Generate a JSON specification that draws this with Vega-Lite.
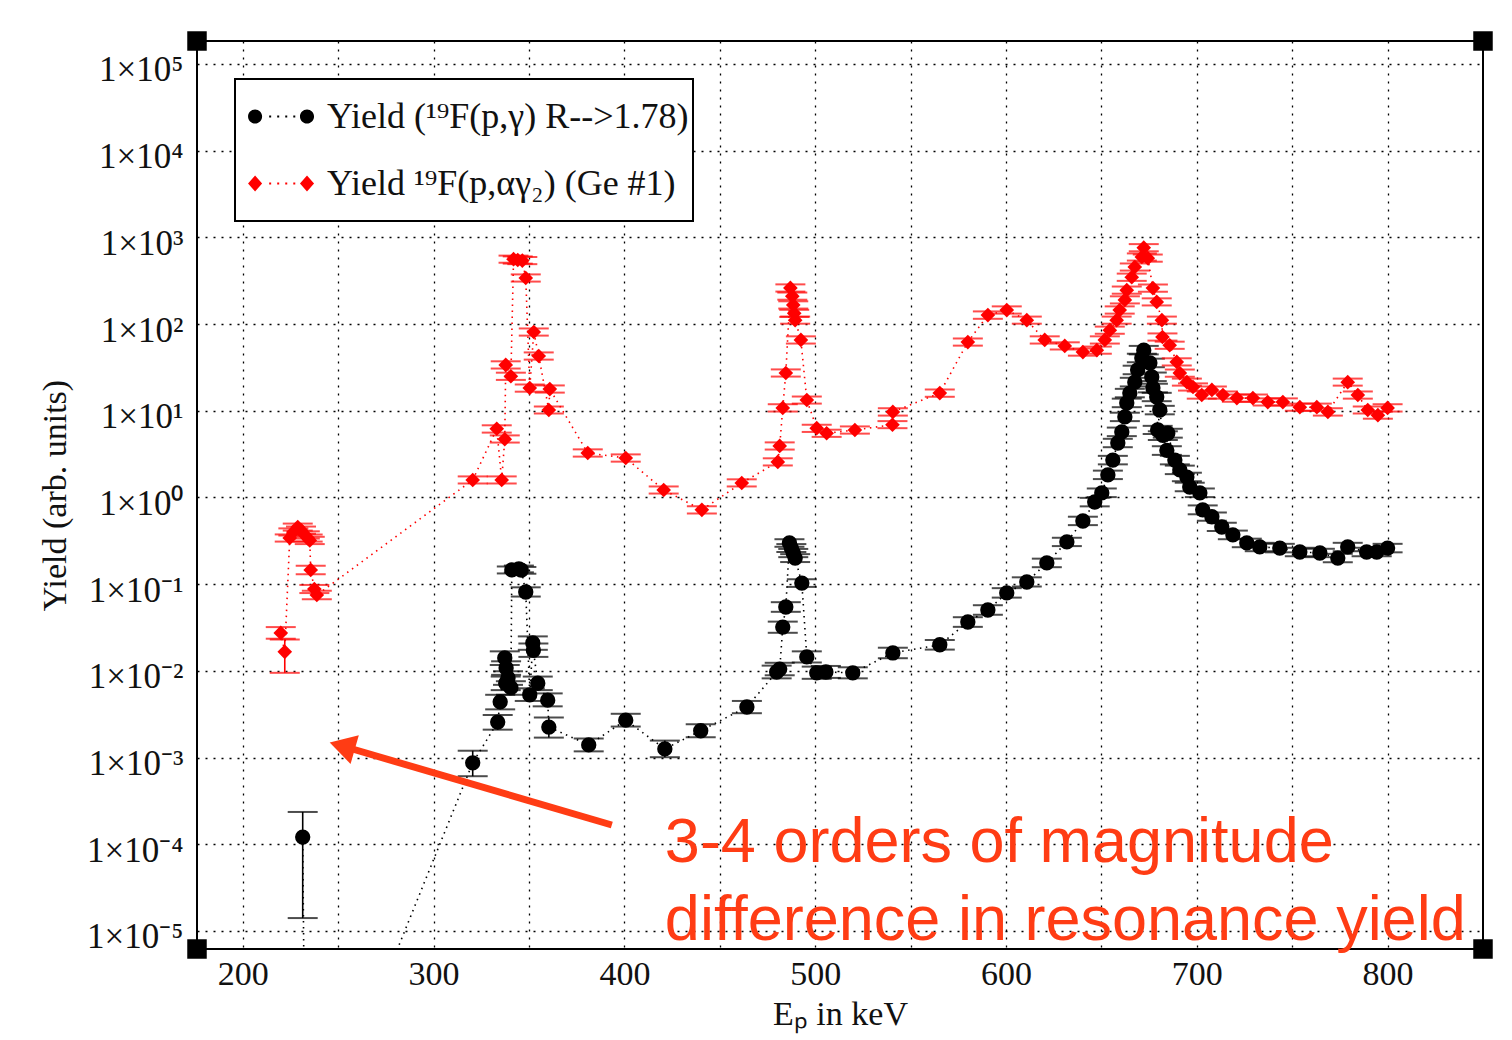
{
  "$schema": "https://vega.github.io/schema/vega-lite/v6.json",
  "width": 1286,
  "height": 908,
  "autosize": {"type": "none"},
  "padding": {"left": 197, "top": 41, "right": 29, "bottom": 91},
  "background": "white",
  "datasets": {
    "pts": [
      {"s":"g","E":231.4,"Y":1.21e-4,"lo":1.41e-5,"hi":2.36e-4},
      {"s":"g","E":233.0,"Y":1.5e-8,"lo":1.5e-8,"hi":1.5e-8},
      {"s":"g","E":320.5,"Y":8.7e-4,"lo":6.1e-4,"hi":1.2e-3},
      {"s":"g","E":333.6,"Y":2.57e-3,"lo":2.1e-3,"hi":3.1e-3},
      {"s":"g","E":334.9,"Y":4.4e-3,"lo":3.6e-3,"hi":5.3e-3},
      {"s":"g","E":337.8,"Y":7.2e-3,"lo":6.0e-3,"hi":8.6e-3},
      {"s":"g","E":337.3,"Y":0.0141,"lo":0.0117,"hi":0.0168},
      {"s":"g","E":338.0,"Y":0.0108,"lo":0.009,"hi":0.0129},
      {"s":"g","E":339.0,"Y":0.0083,"lo":0.0069,"hi":0.0099},
      {"s":"g","E":340.5,"Y":0.0064,"lo":0.0053,"hi":0.0076},
      {"s":"g","E":341.0,"Y":0.146,"lo":0.133,"hi":0.16},
      {"s":"g","E":344.7,"Y":0.150,"lo":0.137,"hi":0.164},
      {"s":"g","E":346.0,"Y":0.145,"lo":0.132,"hi":0.158},
      {"s":"g","E":348.3,"Y":0.0813,"lo":0.072,"hi":0.092},
      {"s":"g","E":352.0,"Y":0.021,"lo":0.0175,"hi":0.025},
      {"s":"g","E":352.3,"Y":0.0173,"lo":0.0145,"hi":0.0207},
      {"s":"g","E":350.4,"Y":0.0053,"lo":0.0045,"hi":0.0063},
      {"s":"g","E":354.6,"Y":0.0072,"lo":0.006,"hi":0.0086},
      {"s":"g","E":359.8,"Y":0.0046,"lo":0.0039,"hi":0.0055},
      {"s":"g","E":360.4,"Y":0.00225,"lo":0.0017,"hi":0.0029},
      {"s":"g","E":381.3,"Y":0.0014,"lo":0.00118,"hi":0.00166},
      {"s":"g","E":400.7,"Y":0.0027,"lo":0.00228,"hi":0.0032},
      {"s":"g","E":421.2,"Y":0.00126,"lo":0.00101,"hi":0.00157},
      {"s":"g","E":440.0,"Y":0.00204,"lo":0.00172,"hi":0.00242},
      {"s":"g","E":464.2,"Y":0.00383,"lo":0.00325,"hi":0.0045},
      {"s":"g","E":479.8,"Y":0.0097,"lo":0.0082,"hi":0.0115},
      {"s":"g","E":481.4,"Y":0.0105,"lo":0.0089,"hi":0.0124},
      {"s":"g","E":483.0,"Y":0.032,"lo":0.0275,"hi":0.037},
      {"s":"g","E":484.6,"Y":0.0546,"lo":0.048,"hi":0.062},
      {"s":"g","E":486.5,"Y":0.299,"lo":0.27,"hi":0.33},
      {"s":"g","E":487.5,"Y":0.261,"lo":0.235,"hi":0.29},
      {"s":"g","E":488.5,"Y":0.229,"lo":0.205,"hi":0.255},
      {"s":"g","E":489.5,"Y":0.2,"lo":0.18,"hi":0.222},
      {"s":"g","E":493.0,"Y":0.103,"lo":0.093,"hi":0.114},
      {"s":"g","E":495.6,"Y":0.0145,"lo":0.0125,"hi":0.0168},
      {"s":"g","E":500.8,"Y":0.0095,"lo":0.0081,"hi":0.0112},
      {"s":"g","E":505.6,"Y":0.0097,"lo":0.0083,"hi":0.0114},
      {"s":"g","E":519.7,"Y":0.0095,"lo":0.0082,"hi":0.011},
      {"s":"g","E":540.7,"Y":0.0161,"lo":0.014,"hi":0.0185},
      {"s":"g","E":565.3,"Y":0.02,"lo":0.0176,"hi":0.0227},
      {"s":"g","E":580.0,"Y":0.0366,"lo":0.0322,"hi":0.0416},
      {"s":"g","E":590.5,"Y":0.0504,"lo":0.0444,"hi":0.0572},
      {"s":"g","E":600.4,"Y":0.0793,"lo":0.07,"hi":0.09},
      {"s":"g","E":610.9,"Y":0.106,"lo":0.094,"hi":0.12},
      {"s":"g","E":621.4,"Y":0.176,"lo":0.157,"hi":0.197},
      {"s":"g","E":631.9,"Y":0.307,"lo":0.275,"hi":0.343},
      {"s":"g","E":640.3,"Y":0.536,"lo":0.48,"hi":0.6},
      {"s":"g","E":646.5,"Y":0.887,"lo":0.79,"hi":0.99},
      {"s":"g","E":650.2,"Y":1.13,"lo":1.01,"hi":1.27},
      {"s":"g","E":653.4,"Y":1.82,"lo":1.63,"hi":2.04},
      {"s":"g","E":656.0,"Y":2.7,"lo":2.41,"hi":3.02},
      {"s":"g","E":658.6,"Y":4.25,"lo":3.8,"hi":4.75},
      {"s":"g","E":660.7,"Y":5.7,"lo":5.1,"hi":6.4},
      {"s":"g","E":662.3,"Y":8.5,"lo":7.6,"hi":9.5},
      {"s":"g","E":663.3,"Y":12.3,"lo":11,"hi":13.8},
      {"s":"g","E":664.9,"Y":16,"lo":14.3,"hi":17.9},
      {"s":"g","E":667.5,"Y":21.4,"lo":19.1,"hi":24},
      {"s":"g","E":669.0,"Y":29.6,"lo":26.4,"hi":33.1},
      {"s":"g","E":671.2,"Y":40.6,"lo":36.3,"hi":45.5},
      {"s":"g","E":672.2,"Y":50,"lo":44.7,"hi":56},
      {"s":"g","E":675.4,"Y":35.6,"lo":31.8,"hi":39.9},
      {"s":"g","E":676.4,"Y":24.6,"lo":22,"hi":27.6},
      {"s":"g","E":677.0,"Y":18.3,"lo":16.3,"hi":20.5},
      {"s":"g","E":679.0,"Y":14.4,"lo":12.9,"hi":16.1},
      {"s":"g","E":680.6,"Y":10.2,"lo":9.1,"hi":11.4},
      {"s":"g","E":679.5,"Y":6.0,"lo":5.4,"hi":6.7},
      {"s":"g","E":682.2,"Y":5.2,"lo":4.6,"hi":5.8},
      {"s":"g","E":684.8,"Y":5.5,"lo":4.9,"hi":6.2},
      {"s":"g","E":684.3,"Y":3.5,"lo":3.1,"hi":3.9},
      {"s":"g","E":688.5,"Y":2.7,"lo":2.41,"hi":3.02},
      {"s":"g","E":691.1,"Y":2.08,"lo":1.86,"hi":2.33},
      {"s":"g","E":694.8,"Y":1.72,"lo":1.54,"hi":1.93},
      {"s":"g","E":696.3,"Y":1.32,"lo":1.18,"hi":1.48},
      {"s":"g","E":701.6,"Y":1.13,"lo":1.01,"hi":1.27},
      {"s":"g","E":703.1,"Y":0.72,"lo":0.64,"hi":0.81},
      {"s":"g","E":707.9,"Y":0.6,"lo":0.54,"hi":0.67},
      {"s":"g","E":713.1,"Y":0.457,"lo":0.41,"hi":0.51},
      {"s":"g","E":718.9,"Y":0.371,"lo":0.33,"hi":0.415},
      {"s":"g","E":726.2,"Y":0.299,"lo":0.267,"hi":0.335},
      {"s":"g","E":733.0,"Y":0.269,"lo":0.24,"hi":0.3},
      {"s":"g","E":743.5,"Y":0.261,"lo":0.233,"hi":0.292},
      {"s":"g","E":754.0,"Y":0.235,"lo":0.21,"hi":0.263},
      {"s":"g","E":764.5,"Y":0.229,"lo":0.205,"hi":0.256},
      {"s":"g","E":773.9,"Y":0.2,"lo":0.179,"hi":0.224},
      {"s":"g","E":779.1,"Y":0.269,"lo":0.24,"hi":0.3},
      {"s":"g","E":789.0,"Y":0.235,"lo":0.21,"hi":0.263},
      {"s":"g","E":794.3,"Y":0.235,"lo":0.21,"hi":0.263},
      {"s":"g","E":800.0,"Y":0.261,"lo":0.233,"hi":0.292},
      {"s":"a","E":219.9,"Y":0.0274,"lo":0.0235,"hi":0.032},
      {"s":"a","E":222.0,"Y":0.0166,"lo":0.0095,"hi":0.023},
      {"s":"a","E":224.6,"Y":0.341,"lo":0.31,"hi":0.375},
      {"s":"a","E":226.5,"Y":0.40,"lo":0.364,"hi":0.44},
      {"s":"a","E":228.8,"Y":0.456,"lo":0.415,"hi":0.5},
      {"s":"a","E":230.5,"Y":0.42,"lo":0.382,"hi":0.462},
      {"s":"a","E":232.5,"Y":0.37,"lo":0.336,"hi":0.407},
      {"s":"a","E":234.0,"Y":0.34,"lo":0.31,"hi":0.374},
      {"s":"a","E":235.1,"Y":0.32,"lo":0.29,"hi":0.352},
      {"s":"a","E":235.6,"Y":0.146,"lo":0.13,"hi":0.163},
      {"s":"a","E":237.5,"Y":0.088,"lo":0.079,"hi":0.098},
      {"s":"a","E":238.8,"Y":0.075,"lo":0.067,"hi":0.084},
      {"s":"a","E":320.5,"Y":1.59,"lo":1.45,"hi":1.75},
      {"s":"a","E":333.1,"Y":6.2,"lo":5.6,"hi":6.8},
      {"s":"a","E":335.7,"Y":1.59,"lo":1.45,"hi":1.75},
      {"s":"a","E":337.3,"Y":4.7,"lo":4.3,"hi":5.2},
      {"s":"a","E":337.8,"Y":33.8,"lo":30.7,"hi":37.2},
      {"s":"a","E":340.5,"Y":25,"lo":22.7,"hi":27.5},
      {"s":"a","E":341.9,"Y":560,"lo":510,"hi":616},
      {"s":"a","E":344.1,"Y":548,"lo":498,"hi":603},
      {"s":"a","E":346.5,"Y":540,"lo":491,"hi":594},
      {"s":"a","E":348.3,"Y":340,"lo":309,"hi":374},
      {"s":"a","E":350.4,"Y":18.3,"lo":16.6,"hi":20.1},
      {"s":"a","E":352.5,"Y":81,"lo":73.6,"hi":89},
      {"s":"a","E":355.1,"Y":42.8,"lo":38.9,"hi":47.1},
      {"s":"a","E":360.4,"Y":10.2,"lo":9.3,"hi":11.2},
      {"s":"a","E":360.9,"Y":17.8,"lo":16.2,"hi":19.6},
      {"s":"a","E":380.8,"Y":3.26,"lo":2.96,"hi":3.59},
      {"s":"a","E":400.7,"Y":2.85,"lo":2.59,"hi":3.14},
      {"s":"a","E":420.6,"Y":1.22,"lo":1.11,"hi":1.34},
      {"s":"a","E":440.6,"Y":0.72,"lo":0.655,"hi":0.79},
      {"s":"a","E":461.5,"Y":1.47,"lo":1.34,"hi":1.62},
      {"s":"a","E":480.4,"Y":2.57,"lo":2.34,"hi":2.83},
      {"s":"a","E":481.4,"Y":3.93,"lo":3.57,"hi":4.32},
      {"s":"a","E":483.0,"Y":10.8,"lo":9.8,"hi":11.9},
      {"s":"a","E":484.6,"Y":27.3,"lo":24.8,"hi":30},
      {"s":"a","E":487.0,"Y":261,"lo":237,"hi":287},
      {"s":"a","E":488.0,"Y":210,"lo":191,"hi":231},
      {"s":"a","E":488.5,"Y":166,"lo":151,"hi":183},
      {"s":"a","E":489.0,"Y":133,"lo":121,"hi":146},
      {"s":"a","E":489.5,"Y":111,"lo":101,"hi":122},
      {"s":"a","E":492.5,"Y":65.6,"lo":59.6,"hi":72.2},
      {"s":"a","E":495.6,"Y":13.3,"lo":12.1,"hi":14.6},
      {"s":"a","E":500.8,"Y":6.3,"lo":5.7,"hi":6.9},
      {"s":"a","E":506.0,"Y":5.5,"lo":5.0,"hi":6.05},
      {"s":"a","E":520.8,"Y":6.0,"lo":5.45,"hi":6.6},
      {"s":"a","E":540.5,"Y":6.9,"lo":6.3,"hi":7.6},
      {"s":"a","E":540.7,"Y":9.7,"lo":8.8,"hi":10.7},
      {"s":"a","E":565.3,"Y":16,"lo":14.5,"hi":17.6},
      {"s":"a","E":580.0,"Y":62,"lo":56.4,"hi":68.2},
      {"s":"a","E":590.5,"Y":127,"lo":115,"hi":140},
      {"s":"a","E":600.4,"Y":145,"lo":132,"hi":160},
      {"s":"a","E":610.9,"Y":111,"lo":101,"hi":122},
      {"s":"a","E":620.3,"Y":65.6,"lo":59.6,"hi":72.2},
      {"s":"a","E":630.8,"Y":56,"lo":50.9,"hi":61.6},
      {"s":"a","E":640.3,"Y":47.5,"lo":43.2,"hi":52.3},
      {"s":"a","E":647.6,"Y":50,"lo":45.5,"hi":55},
      {"s":"a","E":651.8,"Y":65.6,"lo":59.6,"hi":72.2},
      {"s":"a","E":654.4,"Y":85,"lo":77.3,"hi":93.5},
      {"s":"a","E":658.0,"Y":111,"lo":101,"hi":122},
      {"s":"a","E":659.6,"Y":145,"lo":132,"hi":160},
      {"s":"a","E":662.3,"Y":190,"lo":173,"hi":209},
      {"s":"a","E":663.3,"Y":246,"lo":224,"hi":271},
      {"s":"a","E":665.9,"Y":347,"lo":315,"hi":382},
      {"s":"a","E":667.5,"Y":455,"lo":414,"hi":500},
      {"s":"a","E":671.2,"Y":594,"lo":540,"hi":653},
      {"s":"a","E":672.2,"Y":760,"lo":691,"hi":836},
      {"s":"a","E":674.3,"Y":576,"lo":524,"hi":634},
      {"s":"a","E":677.0,"Y":260,"lo":236,"hi":286},
      {"s":"a","E":679.0,"Y":180,"lo":164,"hi":198},
      {"s":"a","E":681.7,"Y":111,"lo":101,"hi":122},
      {"s":"a","E":682.0,"Y":71,"lo":64.5,"hi":78},
      {"s":"a","E":685.8,"Y":57,"lo":51.8,"hi":62.7},
      {"s":"a","E":689.5,"Y":36.6,"lo":33.3,"hi":40.3},
      {"s":"a","E":691.1,"Y":27.2,"lo":24.7,"hi":29.9},
      {"s":"a","E":694.8,"Y":21.4,"lo":19.5,"hi":23.5},
      {"s":"a","E":698.0,"Y":18.8,"lo":17.1,"hi":20.7},
      {"s":"a","E":702.6,"Y":15.2,"lo":13.8,"hi":16.7},
      {"s":"a","E":707.9,"Y":17.4,"lo":15.8,"hi":19.1},
      {"s":"a","E":713.7,"Y":15.2,"lo":13.8,"hi":16.7},
      {"s":"a","E":721.0,"Y":14,"lo":12.7,"hi":15.4},
      {"s":"a","E":729.4,"Y":14,"lo":12.7,"hi":15.4},
      {"s":"a","E":737.2,"Y":12.6,"lo":11.5,"hi":13.9},
      {"s":"a","E":745.1,"Y":12.6,"lo":11.5,"hi":13.9},
      {"s":"a","E":754.0,"Y":11,"lo":10,"hi":12.1},
      {"s":"a","E":762.9,"Y":11,"lo":10,"hi":12.1},
      {"s":"a","E":768.7,"Y":9.7,"lo":8.8,"hi":10.7},
      {"s":"a","E":779.1,"Y":21.4,"lo":19.5,"hi":23.5},
      {"s":"a","E":784.4,"Y":15.2,"lo":13.8,"hi":16.7},
      {"s":"a","E":789.6,"Y":10.2,"lo":9.3,"hi":11.2},
      {"s":"a","E":794.9,"Y":8.9,"lo":8.1,"hi":9.8},
      {"s":"a","E":800.0,"Y":10.8,"lo":9.8,"hi":11.9}
    ]
  },
  "data": {"name": "pts"},
  "encoding": {
    "x": {
      "field": "E", "type": "quantitative",
      "scale": {"domain": [176, 850], "nice": false, "zero": false},
      "axis": {
        "title": "Eₚ in keV",
        "values": [200, 250, 300, 350, 400, 450, 500, 550, 600, 650, 700, 750, 800],
        "format": "d",
        "labelExpr": "datum.value % 100 === 0 ? datum.label : ''",
        "labelPadding": 8,
        "titlePadding": 6
      }
    },
    "y": {
      "field": "Y", "type": "quantitative",
      "scale": {"type": "log", "domain": [6.2e-6, 184000], "nice": false},
      "axis": {
        "title": "Yield (arb. units)",
        "values": [1e-5, 1e-4, 1e-3, 1e-2, 1e-1, 1, 10, 100, 1000, 10000, 100000],
        "labelExpr": "'1×10' + (datum.value < 0.5 ? '⁻' : '') + ['⁰','¹','²','³','⁴','⁵'][abs(round(log(datum.value)/LN10))]",
        "labelFontSize": 35,
        "labelPadding": 14,
        "labelOffset": 6,
        "titlePadding": 14
      }
    }
  },
  "layer": [
    {
      "mark": {"type": "line", "strokeDash": [1.5, 4.5], "strokeWidth": 1.6, "clip": true},
      "encoding": {
        "stroke": {"field": "s", "type": "nominal", "scale": {"domain": ["a", "g"], "range": ["#ff0000", "#000000"]}, "legend": null}
      }
    },
    {
      "mark": {"type": "rule", "strokeWidth": 1.6, "clip": true},
      "encoding": {
        "y": {"field": "lo", "type": "quantitative"},
        "y2": {"field": "hi"},
        "stroke": {"field": "s", "type": "nominal", "legend": null}
      }
    },
    {
      "mark": {"type": "tick", "orient": "horizontal", "size": 30, "thickness": 2, "clip": true},
      "encoding": {
        "y": {"field": "lo", "type": "quantitative"},
        "fill": {"field": "s", "type": "nominal", "scale": {"domain": ["a", "g"], "range": ["#ff0000", "#000000"]}, "legend": null}
      }
    },
    {
      "mark": {"type": "tick", "orient": "horizontal", "size": 30, "thickness": 2, "clip": true},
      "encoding": {
        "y": {"field": "hi", "type": "quantitative"},
        "fill": {"field": "s", "type": "nominal", "legend": null}
      }
    },
    {
      "transform": [{"filter": "datum.s == 'g'"}],
      "mark": {"type": "point", "shape": "circle", "filled": true, "size": 235, "opacity": 1, "color": "#000000", "clip": true}
    },
    {
      "transform": [{"filter": "datum.s == 'a'"}],
      "mark": {"type": "point", "shape": "diamond", "filled": true, "size": 215, "opacity": 1, "color": "#ff0000", "clip": true}
    },
    {
      "mark": {"type": "point", "filled": true, "size": 10, "opacity": 0, "clip": true},
      "encoding": {
        "color": {
          "field": "s", "type": "nominal",
          "scale": {"domain": ["g", "a"], "range": ["#000000", "#ff0000"]},
          "legend": {
            "orient": "none", "legendX": 38, "legendY": 38, "title": null,
            "direction": "vertical", "padding": 4,
            "strokeColor": "#000", "fillColor": "#ffffff",
            "symbolSize": 4489, "symbolOpacity": 1, "symbolStrokeWidth": 0,
            "labelFontSize": 36, "labelOffset": 21, "rowPadding": -3,
            "labelLimit": 0,
            "labelExpr": "datum.value == 'g' ? 'Yield (¹⁹F(p,γ) R-->1.78)\u00a0\u200a' : 'Yield ¹⁹F(p,αγ₂) (Ge #1)'"
          }
        },
        "shape": {
          "field": "s", "type": "nominal",
          "scale": {"domain": ["g", "a"], "range": [
            "M-0.73,0a0.21,0.21 0 1,0 0.42,0a0.21,0.21 0 1,0 -0.42,0Z M0.82,0a0.21,0.21 0 1,0 0.42,0a0.21,0.21 0 1,0 -0.42,0Z M-0.1,-0.03h0.06v0.06h-0.06Z M0.14,-0.03h0.06v0.06h-0.06Z M0.38,-0.03h0.06v0.06h-0.06Z M0.62,-0.03h0.06v0.06h-0.06Z M-0.5,-1Z M-0.5,1Z",
            "M-0.73,0L-0.52,-0.24L-0.31,0L-0.52,0.24Z M0.82,0L1.03,-0.24L1.24,0L1.03,0.24Z M-0.1,-0.03h0.06v0.06h-0.06Z M0.14,-0.03h0.06v0.06h-0.06Z M0.38,-0.03h0.06v0.06h-0.06Z M0.62,-0.03h0.06v0.06h-0.06Z M-0.5,-1Z M-0.5,1Z"
          ]},
          "legend": {
            "orient": "none", "legendX": 38, "legendY": 38, "title": null,
            "direction": "vertical", "padding": 4,
            "strokeColor": "#000", "fillColor": "#ffffff",
            "symbolSize": 4489, "symbolOpacity": 1, "symbolStrokeWidth": 0,
            "labelFontSize": 36, "labelOffset": 21, "rowPadding": -3,
            "labelLimit": 0,
            "labelExpr": "datum.value == 'g' ? 'Yield (¹⁹F(p,γ) R-->1.78)\u00a0\u200a' : 'Yield ¹⁹F(p,αγ₂) (Ge #1)'"
          }
        }
      }
    },
    {
      "data": {"values": [
        {"E": 393.4, "Y": 1.67e-4, "E2": 252.1, "Y2": 1.36e-3}
      ]},
      "mark": {"type": "rule", "strokeWidth": 7, "color": "#ff3c14", "clip": false},
      "encoding": {
        "x2": {"field": "E2"},
        "y2": {"field": "Y2"}
      }
    },
    {
      "data": {"values": [
        {"E": 393.4, "Y": 1.67e-4, "E2": 252.1, "Y2": 1.36e-3}
      ]},
      "mark": {"type": "point", "shape": "triangle-left", "filled": true, "size": 900, "angle": 16, "opacity": 1, "color": "#ff3c14", "clip": false},
      "encoding": {
        "x": {"field": "E2", "type": "quantitative"},
        "y": {"field": "Y2", "type": "quantitative"}
      }
    },
    {
      "data": {"values": [
        {"E": 421.2, "Y": 6.25e-5, "t": "3-4 orders of magnitude"},
        {"E": 421.2, "Y": 7.87e-6, "t": "difference in resonance yield"}
      ]},
      "mark": {"type": "text", "align": "left", "baseline": "alphabetic", "font": "Liberation Sans", "fontSize": 63, "color": "#ff3c14", "clip": false},
      "encoding": {
        "text": {"field": "t", "type": "nominal"}
      }
    },
    {
      "data": {"values": [
        {"E": 176, "Y": 6.2e-6},
        {"E": 850, "Y": 6.2e-6},
        {"E": 176, "Y": 184000},
        {"E": 850, "Y": 184000}
      ]},
      "mark": {"type": "point", "shape": "square", "filled": true, "size": 380, "opacity": 1, "color": "#000", "clip": false}
    }
  ],
  "config": {
    "font": "Liberation Serif",
    "view": {"stroke": "#000", "strokeWidth": 2},
    "axis": {
      "domain": false,
      "ticks": false,
      "grid": true,
      "gridColor": "#000",
      "gridDash": [2, 6],
      "gridWidth": 1.3,
      "gridOpacity": 1,
      "labelFont": "Liberation Serif",
      "labelFontSize": 34,
      "labelColor": "#111",
      "titleFont": "Liberation Serif",
      "titleFontSize": 34,
      "titleFontWeight": "normal",
      "titleColor": "#111"
    },
    "legend": {
      "labelFont": "Liberation Serif",
      "labelColor": "#111",
      "strokeWidth": 2
    }
  }
}
